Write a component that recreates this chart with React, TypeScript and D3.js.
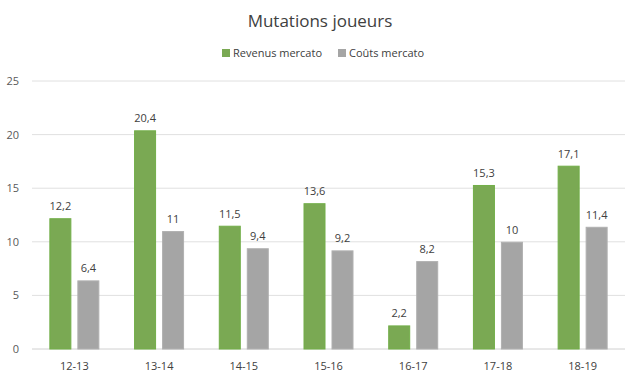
import React from "react";
import * as d3 from "d3";

const categories = ["12-13", "13-14", "14-15", "15-16", "16-17", "17-18", "18-19"];
const revenus = [12.2, 20.4, 11.5, 13.6, 2.2, 15.3, 17.1];
const couts = [6.4, 11, 9.4, 9.2, 8.2, 10, 11.4];
const yTicks = [0, 5, 10, 15, 20, 25];
const seriesNames = ["Revenus mercato", "Coûts mercato"];
const colors = ["#7AA953", "#A5A5A5"];
const strokes = ["#72AE48", "#B0B0B0"];

const W = 640, H = 381;
const left = 32, right = 625, top = 81, bottom = 349;
const font = "'Open Sans', 'Noto Sans', sans-serif";

export default function App() {
  const x = d3.scaleBand<string>().domain(categories).range([left, right]).paddingInner(0).paddingOuter(0);
  const y = d3.scaleLinear().domain([0, 25]).range([bottom, top]);
  const barW = 22, gap = 6;
  const fmt = (v: number) => String(v).replace(".", ",");
  const series = [revenus, couts];
  return (
    <svg width={W} height={H} style={{ position: "absolute", left: 0, top: 0, background: "#fff" }}>
      <text x={320} y={27} textAnchor="middle" fontFamily={font} fontSize={17} fill="#404040">Mutations joueurs</text>
      <g fontFamily={font} fontSize={11} fill="#404040">
        <rect x={222} y={49} width={8} height={8} fill={colors[0]} />
        <text x={233} y={57}>{seriesNames[0]}</text>
        <rect x={338} y={49} width={8} height={8} fill={colors[1]} />
        <text x={349} y={57}>{seriesNames[1]}</text>
      </g>
      {yTicks.map((t) => (
        <g key={t}>
          <line x1={left} x2={right} y1={y(t)} y2={y(t)} stroke={t === 0 ? "#D0D0D0" : "#E0E0E0"} strokeWidth={1} />
          <text x={19} y={y(t) + 4} textAnchor="end" fontFamily={font} fontSize={11} fill="#595959">{t}</text>
        </g>
      ))}
      {categories.map((c, i) => {
        const cx = x(c)! + x.bandwidth() / 2;
        return (
          <g key={c}>
            {series.map((s, k) => {
              const bx = k === 0 ? cx - gap / 2 - barW : cx + gap / 2;
              const v = s[i];
              return (
                <g key={k}>
                  <rect x={bx + 0.5} y={y(v) + 0.5} width={barW - 1} height={bottom - y(v) - 0.5} fill={colors[k]} stroke={strokes[k]} strokeWidth={1} />
                  <text x={bx + barW / 2} y={y(v) - 8} textAnchor="middle" fontFamily={font} fontSize={11} fill="#404040">{fmt(v)}</text>
                </g>
              );
            })}
            <text x={cx} y={370} textAnchor="middle" fontFamily={font} fontSize={11} fill="#404040">{c}</text>
          </g>
        );
      })}
    </svg>
  );
}
